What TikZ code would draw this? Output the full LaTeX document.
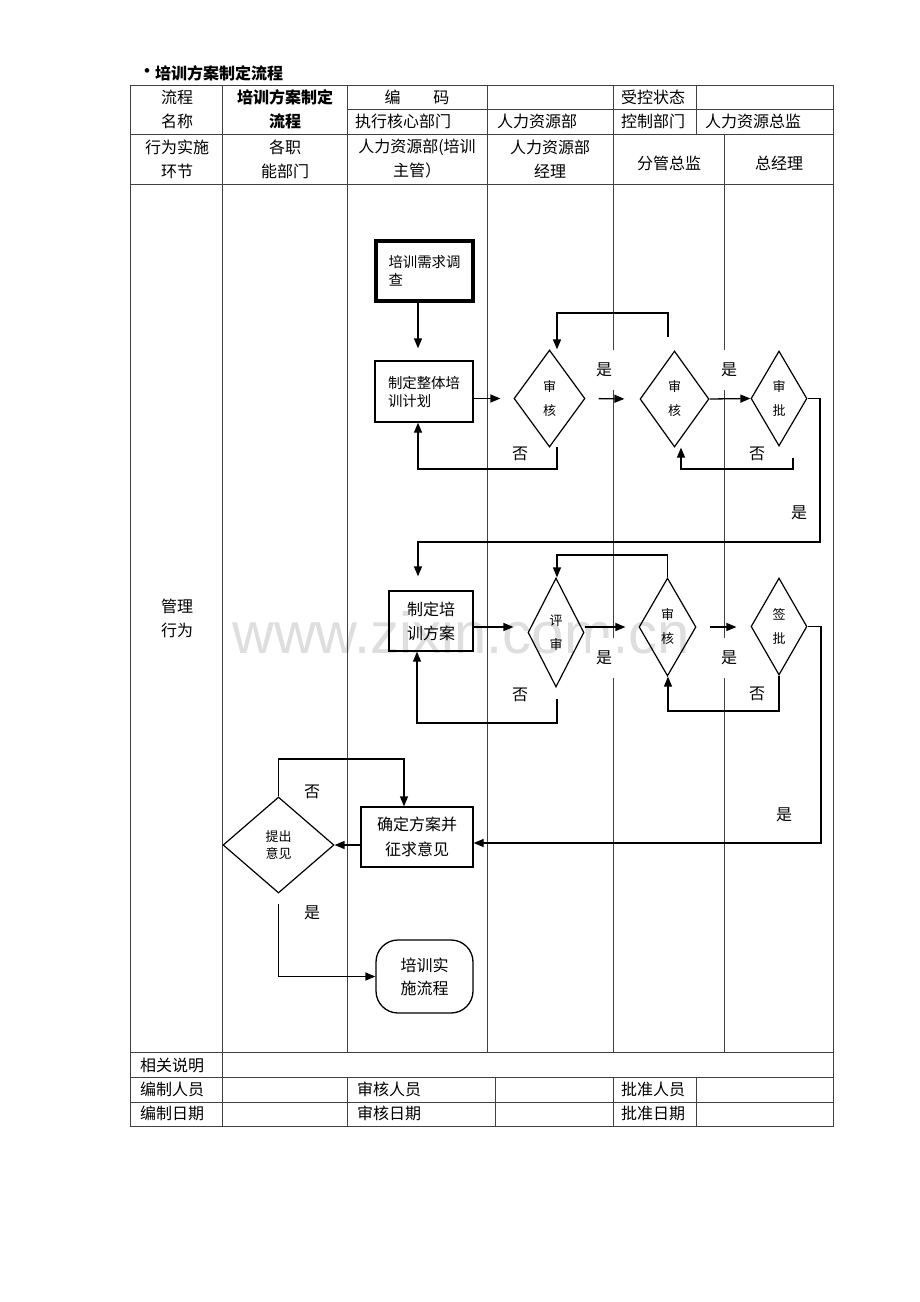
\documentclass[tikz,border=0pt]{standalone}
\usepackage{fontspec}
\setmainfont{Noto Sans CJK SC}
\newfontfamily\wmfont{Liberation Sans}
\usetikzlibrary{shapes.geometric,arrows.meta,calc}
\newcommand\myfs[2]{\fontsize{#1}{#2}\selectfont}
\begin{document}
\begin{tikzpicture}[x=1pt,y=-1pt,
  grid/.style={draw=black!75, line width=0.9pt},
  conn/.style={line width=1.3pt},
  arr/.style={conn, -{Triangle[length=10pt,width=8pt]}},
  fbox/.style={draw, rectangle, line width=1.3pt, inner sep=0pt, align=center},
  dia/.style={diamond, draw, line width=1.2pt, inner sep=0pt, align=center, font=\myfs{13}{24}},
  lab/.style={fill=white, inner sep=0pt, minimum width=28pt, minimum height=40pt, font=\myfs{16}{20}},
  cell/.style={inner sep=0pt, align=center, font=\myfs{16}{24}},
  lcell/.style={inner sep=0pt, anchor=west, font=\myfs{16}{24}},
]
\useasboundingbox (0,0) rectangle (920,1302);
\fill[white] (0,0) rectangle (920,1302);

% watermark
\node[text=black!13, font=\wmfont\myfs{58}{60}, inner sep=0pt] (wm) at (461,633) {www.zixin.com.cn};

% title
\node[inner sep=0pt, font=\wmfont\myfs{17}{20}] (bul) at (147,73) {•};
\node[inner sep=0pt, anchor=west, font=\myfs{16}{20}\bfseries] (title) at (155,73) {培训方案制定流程};

% table grid
\draw[grid] (130,85) rectangle (833,1126);
\draw[grid] (347,109) -- (833,109);
\draw[grid] (130,134) -- (833,134);
\draw[grid] (130,184) -- (833,184);
\draw[grid] (130,1052) -- (833,1052);
\draw[grid] (130,1077) -- (833,1077);
\draw[grid] (130,1102) -- (833,1102);
\draw[grid] (222,85) -- (222,1126);
\draw[grid] (347,85) -- (347,1052);
\draw[grid] (487,85) -- (487,1052);
\draw[grid] (613,85) -- (613,1052);
\draw[grid] (696,85) -- (696,134);
\draw[grid] (724,134) -- (724,1052);
\draw[grid] (347,1077) -- (347,1126);
\draw[grid] (495,1077) -- (495,1126);
\draw[grid] (613,1077) -- (613,1126);
\draw[grid] (696,1077) -- (696,1126);

% header texts
\node[cell] (fname) at (177,109) {流程\\名称};
\node[cell, font=\myfs{16}{24}\bfseries] (ftitle) at (285,109) {培训方案制定\\流程};
\node[cell] (code) at (417,97) {编\hspace{33pt}码};
\node[lcell] (ctrlstat) at (621,97) {受控状态};
\node[lcell] (execdept) at (355,121) {执行核心部门};
\node[lcell] (hr) at (497,121) {人力资源部};
\node[lcell] (ctrldept) at (621,121) {控制部门};
\node[lcell] (hrdir) at (705,121) {人力资源总监};
\node[cell] (stage) at (177,159) {行为实施\\环节};
\node[cell] (dept) at (285,159) {各职\\能部门};
\node[cell] (hrsup) at (417,159) {人力资源部(培训\\主管）};
\node[cell] (hrmgr) at (550,159) {人力资源部\\经理};
\node[cell] (vp) at (669,163) {分管总监};
\node[cell] (gm) at (779,163) {总经理};
\node[cell] (mgmt) at (177,618) {管理\\行为};

% bottom texts
\node[lcell] (note) at (140,1065) {相关说明};
\node[lcell] (prep) at (140,1089) {编制人员};
\node[lcell] (rev) at (357,1089) {审核人员};
\node[lcell] (appr) at (621,1089) {批准人员};
\node[lcell] (prepd) at (140,1113) {编制日期};
\node[lcell] (revd) at (357,1113) {审核日期};
\node[lcell] (apprd) at (621,1113) {批准日期};

% branch labels (white boxes hide lane lines)
\node[lab] (y1) at (604,370) {是};
\node[lab] (y2) at (729,370) {是};
\node[lab] (n1) at (520,454) {否};
\node[lab] (n2) at (757,454) {否};
\node[lab] (y3) at (799,513) {是};
\node[lab] (y4) at (604,658) {是};
\node[lab] (y5) at (729,658) {是};
\node[lab] (n3) at (520,695) {否};
\node[lab] (n4) at (757,694) {否};
\node[lab] (n5) at (312,792) {否};
\node[lab] (y6) at (312,913) {是};
\node[lab] (y7) at (784,815) {是};

% flow nodes
\node[fbox, line width=3.8pt, minimum width=97pt, minimum height=60pt, font=\myfs{14.4}{18}, align=left] (b1) at (424.5,271) {培训需求调\\查};
\node[fbox, minimum width=98pt, minimum height=61pt, font=\myfs{14.4}{18}, align=left] (b2) at (424,391.5) {制定整体培\\训计划};
\node[fbox, minimum width=84pt, minimum height=60pt, font=\myfs{16}{24}] (b3) at (431,621) {制定培\\训方案};
\node[fbox, minimum width=112pt, minimum height=60pt, font=\myfs{16}{25}] (b4) at (417,837) {确定方案并\\征求意见};
\node[fbox, rounded corners=22pt, minimum width=97pt, minimum height=73pt, font=\myfs{16}{23}] (term) at (424.5,976.5) {培训实\\施流程};

\node[dia, minimum width=71pt, minimum height=97pt] (D1) at (549.5,398.5) {审\\核};
\node[dia, minimum width=69pt, minimum height=96pt] (D2) at (674.5,399) {审\\核};
\node[dia, minimum width=56pt, minimum height=95pt] (D3) at (779,398.5) {审\\批};
\node[dia, minimum width=56pt, minimum height=109pt] (D4) at (556,632.5) {评\\审};
\node[dia, minimum width=57pt, minimum height=98pt] (D5) at (667.5,627) {审\\核};
\node[dia, minimum width=56pt, minimum height=97pt] (D6) at (779,626.5) {签\\批};
\node[dia, minimum width=111pt, minimum height=96pt, font=\myfs{13}{17}] (D7) at (278.5,845) {提出\\意见};

% helper coordinates
\coordinate (xA) at (418,0);
\coordinate (k1) at (668,337);
\coordinate (k2) at (557,313);
\coordinate (k3) at (557,447);
\coordinate (k4) at (418,469);
\coordinate (k5) at (793,458);
\coordinate (k6) at (681,469);
\coordinate (k7) at (820,542);
\coordinate (k8) at (418,542);
\coordinate (rB) at (0,627);
\coordinate (k9) at (557,555);
\coordinate (k10) at (557,699);
\coordinate (k11) at (417,723);
\coordinate (k12) at (668,711);
\coordinate (k13) at (821,843);
\coordinate (k15) at (404,759);
\coordinate (k16) at (278.5,904);

% connectors
\draw[arr, shorten >=12pt] (b1.south -| xA) -- (b2.north -| xA);
\draw[arr, shorten >=13pt] (b2.east |- D1.west) -- (D1.west);
\draw[arr, shorten <=13pt, shorten >=15pt] (D1.east) -- (D2.west);
\draw[arr] (D2.east) -- (D3.west);
\draw[arr] (k1) |- (k2) -- (k2 |- D1.north);
\draw[arr] (k3) |- (k4) -- (k4 |- b2.south);
\draw[arr] (k5) |- (k6) -- (k6 |- D2.south);
\draw[arr, shorten >=14pt] (D3.east) -| (k7) -- (k8) -- (k8 |- b3.north);

\draw[arr, shorten >=14pt] (b3.east |- rB) -- (D4.west |- rB);
\draw[arr, shorten >=13pt] (D4.east |- rB) -- (D5.west |- rB);
\draw[arr, shorten <=13pt, shorten >=14pt] (D5.east |- rB) -- (D6.west |- rB);
\draw[arr] (D5.north) |- (k9) -- (k9 |- D4.north);
\draw[arr] (k10) |- (k11) -- (k11 |- b3.south);
\draw[arr] (D6.south) |- (k12) -- (k12 |- D5.south);
\draw[arr] (D6.east) -| (k13) -- (b4.east |- k13);

\draw[arr] (b4.west |- D7.east) -- (D7.east);
\draw[arr] (D7.north) |- (k15) -- (k15 |- b4.north);
\draw[arr] (k16) |- (term.west);
\end{tikzpicture}
\end{document}
